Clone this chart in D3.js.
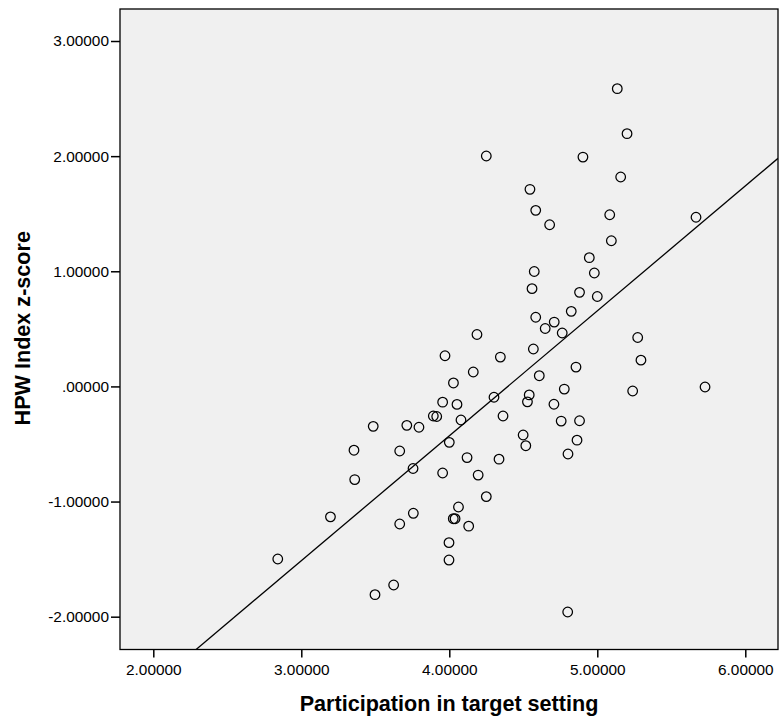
<!DOCTYPE html>
<html>
<head>
<meta charset="utf-8">
<script src="https://cdn.jsdelivr.net/npm/d3@7"></script>
<style>
  html, body { margin: 0; padding: 0; background: #ffffff; }
  svg { display: block; }
</style>
</head>
<body>
<svg id="chart" width="781" height="717"></svg>
<script>
// Data
const participation = [
  5.135, 5.201, 4.250, 4.903, 5.158, 4.545, 4.584, 4.678, 5.084, 5.667,
  5.095, 4.946, 4.574, 4.980, 4.559, 4.880, 5.000, 4.824, 4.584, 4.709,
  4.648, 4.763, 4.187, 5.273, 4.345, 4.568, 5.295, 4.162, 4.856, 4.028,
  4.608, 5.239, 5.728, 4.777, 4.052, 4.302, 4.540, 4.528, 4.707, 4.079,
  4.363, 4.756, 4.880, 4.000, 4.499, 4.517, 4.863, 4.802, 4.120, 4.336,
  4.195, 4.250, 4.062, 4.027, 4.039, 4.131, 3.998, 3.998, 4.800, 3.971,
  3.955, 3.892, 3.915, 3.486, 3.713, 3.795, 3.356, 3.665, 3.755, 3.955,
  3.361, 3.197, 3.757, 3.665, 2.841, 3.624, 3.498
];
const hpwZ = [
  2.586, 2.195, 2.001, 1.992, 1.819, 1.712, 1.529, 1.404, 1.491, 1.469,
  1.265, 1.118, 0.998, 0.985, 0.849, 0.817, 0.781, 0.652, 0.601, 0.559,
  0.503, 0.464, 0.451, 0.425, 0.255, 0.325, 0.228, 0.125, 0.168, 0.030,
  0.093, -0.040, -0.005, -0.023, -0.156, -0.094, -0.074, -0.134, -0.155, -0.292,
  -0.257, -0.301, -0.298, -0.486, -0.422, -0.515, -0.467, -0.587, -0.618, -0.632,
  -0.770, -0.957, -1.047, -1.149, -1.149, -1.214, -1.357, -1.508, -1.959, 0.266,
  -0.137, -0.257, -0.261, -0.347, -0.338, -0.355, -0.554, -0.561, -0.713, -0.752,
  -0.809, -1.133, -1.102, -1.195, -1.499, -1.725, -1.809
];
const xTicks = [2, 3, 4, 5, 6];
const yTicks = [-2, -1, 0, 1, 2, 3];
const xDomain = [1.775, 6.221];
const yDomain = [-2.285, 3.278];
// Fit line (as drawn in the reference): y = intercept + slope * x
const fitIntercept = -4.769;
const fitSlope = 1.085;
const xTitle = "Participation in target setting";
const yTitle = "HPW Index z-score";

const points = participation.map((x, i) => ({ x, y: hpwZ[i] }));

const svg = d3.select("#chart");
const plot = { left: 120, right: 778, top: 9, bottom: 649.5 };
const font = "'Liberation Sans', Arial, Helvetica, sans-serif";

const x = d3.scaleLinear().domain(xDomain).range([plot.left, plot.right]);
const y = d3.scaleLinear().domain(yDomain).range([plot.bottom, plot.top]);

// plot background
svg.append("rect")
  .attr("x", plot.left).attr("y", plot.top)
  .attr("width", plot.right - plot.left).attr("height", plot.bottom - plot.top)
  .attr("fill", "#f0f0f0");

svg.append("clipPath").attr("id", "clip")
  .append("rect")
  .attr("x", plot.left).attr("y", plot.top)
  .attr("width", plot.right - plot.left).attr("height", plot.bottom - plot.top);

// fit line
const lx0 = xDomain[0], lx1 = xDomain[1];
svg.append("line")
  .attr("clip-path", "url(#clip)")
  .attr("x1", x(lx0)).attr("y1", y(fitIntercept + fitSlope * lx0))
  .attr("x2", x(lx1)).attr("y2", y(fitIntercept + fitSlope * lx1))
  .attr("stroke", "#000").attr("stroke-width", 1.3);

// points
svg.append("g").selectAll("circle")
  .data(points)
  .join("circle")
  .attr("cx", d => x(d.x))
  .attr("cy", d => y(d.y))
  .attr("r", 4.8)
  .attr("fill", "none")
  .attr("stroke", "#000")
  .attr("stroke-width", 1.25);

// frame
svg.append("rect")
  .attr("x", plot.left).attr("y", plot.top)
  .attr("width", plot.right - plot.left).attr("height", plot.bottom - plot.top)
  .attr("fill", "none").attr("stroke", "#000").attr("stroke-width", 1.3);

const fmt = d => {
  const s = d3.format(".5f")(d);
  return s.replace(/^0\./, ".").replace(/^−/, "-");
};

// x axis
const xAxis = svg.append("g")
  .attr("transform", `translate(0,${plot.bottom})`)
  .call(d3.axisBottom(x).tickValues(xTicks).tickFormat(fmt).tickSize(8).tickSizeOuter(0).tickPadding(7));
xAxis.select(".domain").remove();
xAxis.selectAll(".tick line").attr("stroke", "#000").attr("stroke-width", 1.5);
xAxis.selectAll(".tick text").attr("fill", "#000").style("font-family", font).style("font-size", "15.4px");

// y axis
const yAxis = svg.append("g")
  .attr("transform", `translate(${plot.left},0)`)
  .call(d3.axisLeft(y).tickValues(yTicks).tickFormat(fmt).tickSize(9).tickSizeOuter(0).tickPadding(2));
yAxis.select(".domain").remove();
yAxis.selectAll(".tick line").attr("stroke", "#000").attr("stroke-width", 1.5);
yAxis.selectAll(".tick text").attr("fill", "#000").style("font-family", font).style("font-size", "15.4px");

// axis titles
svg.append("text")
  .attr("x", (plot.left + plot.right) / 2)
  .attr("y", 711)
  .attr("text-anchor", "middle")
  .style("font-family", font)
  .style("font-size", "21.6px")
  .style("font-weight", "bold")
  .text(xTitle);

svg.append("text")
  .attr("transform", `translate(30,${(plot.top + plot.bottom) / 2 - 1}) rotate(-90)`)
  .attr("text-anchor", "middle")
  .style("font-family", font)
  .style("font-size", "21.6px")
  .style("font-weight", "bold")
  .text(yTitle);
</script>
</body>
</html>
